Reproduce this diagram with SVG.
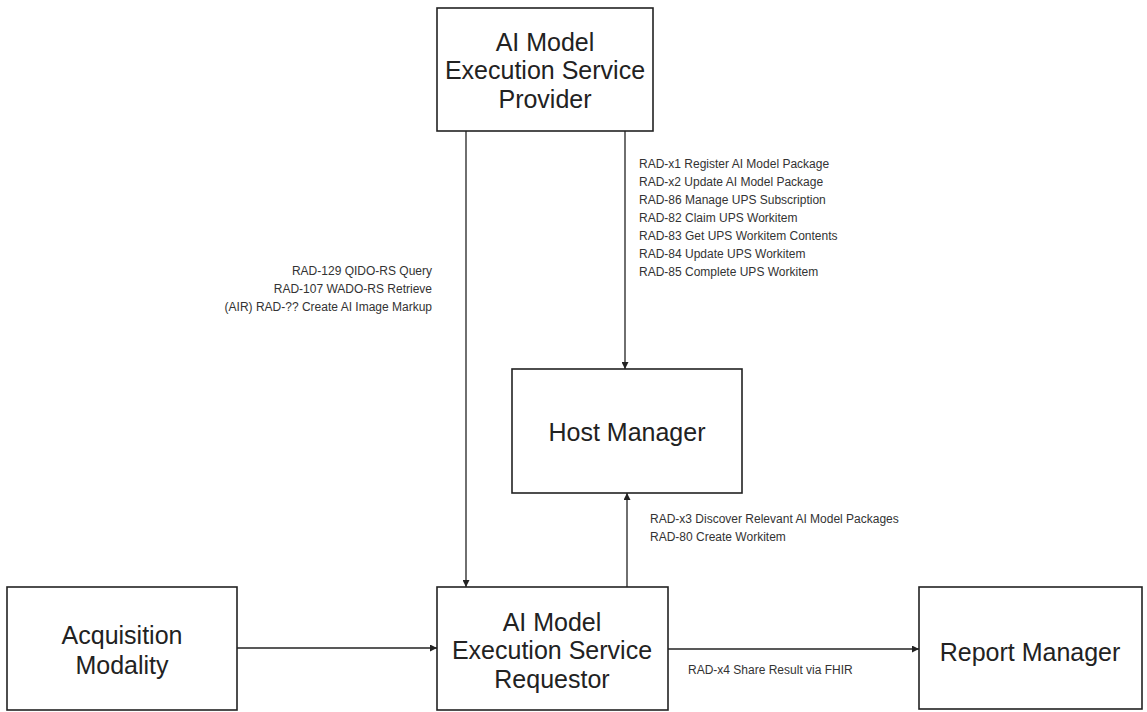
<svg xmlns="http://www.w3.org/2000/svg" width="1147" height="712" viewBox="0 0 1147 712">
<style>
.box{fill:#fff;stroke:#222;stroke-width:1.6}
.big{font-family:"Liberation Sans",Arial,sans-serif;font-size:25px;fill:#222;text-anchor:middle}
.sm{font-family:"Liberation Sans",Arial,sans-serif;font-size:12px;fill:#333}
.edge{stroke:#222;stroke-width:1.3;fill:none;marker-end:url(#ah)}
</style>
<defs>
<marker id="ah" viewBox="0 0 10 10" refX="10" refY="5" markerWidth="7" markerHeight="7" markerUnits="userSpaceOnUse" orient="auto">
<path d="M0,0 L10,5 L0,10 z" fill="#222"/>
</marker>
</defs>
<rect width="1147" height="712" fill="#fff"/>
<g id="connectors">
<line class="edge" x1="466" y1="131" x2="466" y2="587"/>
<line class="edge" x1="625" y1="131" x2="625" y2="369"/>
<line class="edge" x1="627" y1="587" x2="627" y2="493"/>
<line class="edge" x1="237" y1="648" x2="437" y2="648"/>
<line class="edge" x1="668" y1="649" x2="919" y2="649"/>
<text class="sm" x="639" y="168">RAD-x1 Register AI Model Package</text>
<text class="sm" x="639" y="186">RAD-x2 Update AI Model Package</text>
<text class="sm" x="639" y="204">RAD-86 Manage UPS Subscription</text>
<text class="sm" x="639" y="222">RAD-82 Claim UPS Workitem</text>
<text class="sm" x="639" y="240">RAD-83 Get UPS Workitem Contents</text>
<text class="sm" x="639" y="258">RAD-84 Update UPS Workitem</text>
<text class="sm" x="639" y="276">RAD-85 Complete UPS Workitem</text>
<text class="sm" x="432" y="275" text-anchor="end">RAD-129 QIDO-RS Query</text>
<text class="sm" x="432" y="293" text-anchor="end">RAD-107 WADO-RS Retrieve</text>
<text class="sm" x="432" y="311" text-anchor="end">(AIR) RAD-?? Create AI Image Markup</text>
<text class="sm" x="650" y="523">RAD-x3 Discover Relevant AI Model Packages</text>
<text class="sm" x="650" y="541">RAD-80 Create Workitem</text>
<text class="sm" x="688" y="674">RAD-x4 Share Result via FHIR</text>
</g>
<g id="provider">
<rect class="box" x="437" y="8" width="216" height="123"/>
<text class="big" x="545" y="51">AI Model</text>
<text class="big" x="545" y="79">Execution Service</text>
<text class="big" x="545" y="108">Provider</text>
</g>
<g id="host-manager">
<rect class="box" x="512" y="369" width="230" height="124"/>
<text class="big" x="627" y="441">Host Manager</text>
</g>
<g id="acquisition-modality">
<rect class="box" x="7" y="587" width="230" height="123"/>
<text class="big" x="122" y="644">Acquisition</text>
<text class="big" x="122" y="674">Modality</text>
</g>
<g id="requestor">
<rect class="box" x="437" y="587" width="231" height="123"/>
<text class="big" x="552" y="631">AI Model</text>
<text class="big" x="552" y="659">Execution Service</text>
<text class="big" x="552" y="688">Requestor</text>
</g>
<g id="report-manager">
<rect class="box" x="919" y="587" width="223" height="122"/>
<text class="big" x="1030" y="661">Report Manager</text>
</g>
</svg>
